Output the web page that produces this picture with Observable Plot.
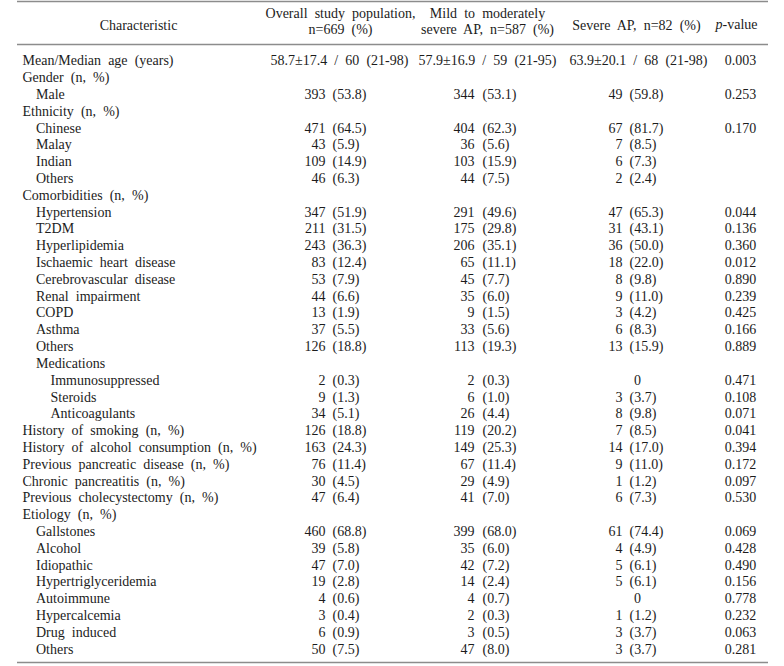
<!DOCTYPE html>
<html>
<head>
<meta charset="utf-8">
<script src="https://cdn.jsdelivr.net/npm/d3@7"></script>
<script src="https://cdn.jsdelivr.net/npm/@observablehq/plot@0.6"></script>
<style>
  html, body { margin: 0; padding: 0; background: #fff; }
  svg text { word-spacing: 3.6px; }
</style>
</head>
<body>
<div id="chart"></div>
<script>
// ---------- data ----------
const headers = [
  ["Characteristic"],
  ["Overall study population,", "n=669 (%)"],
  ["Mild to moderately", "severe AP, n=587 (%)"],
  ["Severe AP, n=82 (%)"]
];
const pHeader = ["p", "-value"];

const labels = [
  "Mean/Median age (years)", "Gender (n, %)", "Male", "Ethnicity (n, %)",
  "Chinese", "Malay", "Indian", "Others", "Comorbidities (n, %)",
  "Hypertension", "T2DM", "Hyperlipidemia", "Ischaemic heart disease",
  "Cerebrovascular disease", "Renal impairment", "COPD", "Asthma", "Others",
  "Medications", "Immunosuppressed", "Steroids", "Anticoagulants",
  "History of smoking (n, %)", "History of alcohol consumption (n, %)",
  "Previous pancreatic disease (n, %)", "Chronic pancreatitis (n, %)",
  "Previous cholecystectomy (n, %)", "Etiology (n, %)",
  "Gallstones", "Alcohol", "Idiopathic", "Hypertriglyceridemia",
  "Autoimmune", "Hypercalcemia", "Drug induced", "Others"
];
const levels = [0,0,1,0, 1,1,1,1,0, 1,1,1,1, 1,1,1,1,1, 1,2,2,2, 0,0, 0,0, 0,0, 1,1,1,1, 1,1,1,1];

const overall = ["58.7±17.4 / 60 (21-98)", "", "393 (53.8)", "", "471 (64.5)", "43 (5.9)", "109 (14.9)", "46 (6.3)", "",
  "347 (51.9)", "211 (31.5)", "243 (36.3)", "83 (12.4)", "53 (7.9)", "44 (6.6)", "13 (1.9)", "37 (5.5)", "126 (18.8)", "",
  "2 (0.3)", "9 (1.3)", "34 (5.1)", "126 (18.8)", "163 (24.3)", "76 (11.4)", "30 (4.5)", "47 (6.4)", "",
  "460 (68.8)", "39 (5.8)", "47 (7.0)", "19 (2.8)", "4 (0.6)", "3 (0.4)", "6 (0.9)", "50 (7.5)"];
const mild = ["57.9±16.9 / 59 (21-95)", "", "344 (53.1)", "", "404 (62.3)", "36 (5.6)", "103 (15.9)", "44 (7.5)", "",
  "291 (49.6)", "175 (29.8)", "206 (35.1)", "65 (11.1)", "45 (7.7)", "35 (6.0)", "9 (1.5)", "33 (5.6)", "113 (19.3)", "",
  "2 (0.3)", "6 (1.0)", "26 (4.4)", "119 (20.2)", "149 (25.3)", "67 (11.4)", "29 (4.9)", "41 (7.0)", "",
  "399 (68.0)", "35 (6.0)", "42 (7.2)", "14 (2.4)", "4 (0.7)", "2 (0.3)", "3 (0.5)", "47 (8.0)"];
const severe = ["63.9±20.1 / 68 (21-98)", "", "49 (59.8)", "", "67 (81.7)", "7 (8.5)", "6 (7.3)", "2 (2.4)", "",
  "47 (65.3)", "31 (43.1)", "36 (50.0)", "18 (22.0)", "8 (9.8)", "9 (11.0)", "3 (4.2)", "6 (8.3)", "13 (15.9)", "",
  "0", "3 (3.7)", "8 (9.8)", "7 (8.5)", "14 (17.0)", "9 (11.0)", "1 (1.2)", "6 (7.3)", "",
  "61 (74.4)", "4 (4.9)", "5 (6.1)", "5 (6.1)", "0", "1 (1.2)", "3 (3.7)", "3 (3.7)"];
const pvals = ["0.003", "", "0.253", "", "0.170", "", "", "", "",
  "0.044", "0.136", "0.360", "0.012", "0.890", "0.239", "0.425", "0.166", "0.889", "",
  "0.471", "0.108", "0.071", "0.041", "0.394", "0.172", "0.097", "0.530", "",
  "0.069", "0.428", "0.490", "0.156", "0.778", "0.232", "0.063", "0.281"];

// ---------- layout (pixel anchors on an identity-like x scale) ----------
const W = 784, H = 666;
const indentX = [22, 35.5, 50];
const cols = [
  {key: "overall", numRight: 325, pctLeft: 332, center: 339, headCenter: 340},
  {key: "mild",    numRight: 474, pctLeft: 482, center: 487, headCenter: 487},
  {key: "severe",  numRight: 622, pctLeft: 629, center: 638, headCenter: 636}
];
const pCenter = 740;
const FONT = "'Liberation Serif', 'Times New Roman', serif";
const FS = 14;
const INK = "#1c1c1c";

const rows = labels.map((label, i) => ({
  i, label, level: levels[i],
  overall: overall[i], mild: mild[i], severe: severe[i], p: pvals[i]
}));
const n = rows.length;

function split(s) {
  const m = /^(\S+) (\(.*\))$/.exec(s);
  return m ? {num: m[1], pct: m[2]} : null;
}

const marks = [];
// rules
marks.push(Plot.ruleY([-3.53, -0.97, n - 1 + 0.79], {x1: () => 17, x2: () => 768, stroke: "#8c8c8c", strokeWidth: 1.6}));

// header
const headSingleY = -2.16, headDoubleY = -2.37;
headers.forEach((h, k) => {
  const cx = k === 0 ? 138 : cols[k - 1].headCenter;
  marks.push(Plot.text([h.join("\n")], {
    x: () => cx, y: () => (h.length === 1 ? headSingleY : headDoubleY),
    text: d => d, textAnchor: "middle", lineHeight: 1.15,
    fontFamily: FONT, fontSize: FS, fill: INK
  }));
});
marks.push(Plot.text([pHeader[0]], {x: () => 722, y: () => headSingleY, text: d => d, textAnchor: "end", fontStyle: "italic", fontFamily: FONT, fontSize: FS, fill: INK}));
marks.push(Plot.text([pHeader[1]], {x: () => 722, y: () => headSingleY, text: d => d, textAnchor: "start", fontFamily: FONT, fontSize: FS, fill: INK}));

// labels
marks.push(Plot.text(rows, {
  x: d => indentX[d.level], y: "i", text: "label", textAnchor: "start",
  fontFamily: FONT, fontSize: FS, fill: INK
}));

// value columns
for (const c of cols) {
  const paired = rows.filter(d => split(d[c.key]));
  const single = rows.filter(d => d[c.key] && !split(d[c.key]));
  marks.push(Plot.text(paired, {x: () => c.numRight, y: "i", text: d => split(d[c.key]).num, textAnchor: "end", fontFamily: FONT, fontSize: FS, fill: INK}));
  marks.push(Plot.text(paired, {x: () => c.pctLeft, y: "i", text: d => split(d[c.key]).pct, textAnchor: "start", fontFamily: FONT, fontSize: FS, fill: INK}));
  marks.push(Plot.text(single, {x: d => (d[c.key] === "0" ? c.numRight + 15 : c.center), y: "i", text: d => d[c.key], textAnchor: "middle", fontFamily: FONT, fontSize: FS, fill: INK}));
}
// p-values
marks.push(Plot.text(rows.filter(d => d.p), {x: () => pCenter, y: "i", text: "p", textAnchor: "middle", fontFamily: FONT, fontSize: FS, fill: INK}));

const chart = Plot.plot({
  width: W, height: H,
  marginTop: 0, marginBottom: 0, marginLeft: 0, marginRight: 0,
  x: {type: "linear", domain: [0, W], range: [0, W], axis: null},
  y: {type: "linear", domain: [0, n - 1], range: [60.3, 648.7], axis: null},
  style: {background: "#fff", overflow: "visible"},
  marks
});
document.getElementById("chart").appendChild(chart);
</script>
</body>
</html>
